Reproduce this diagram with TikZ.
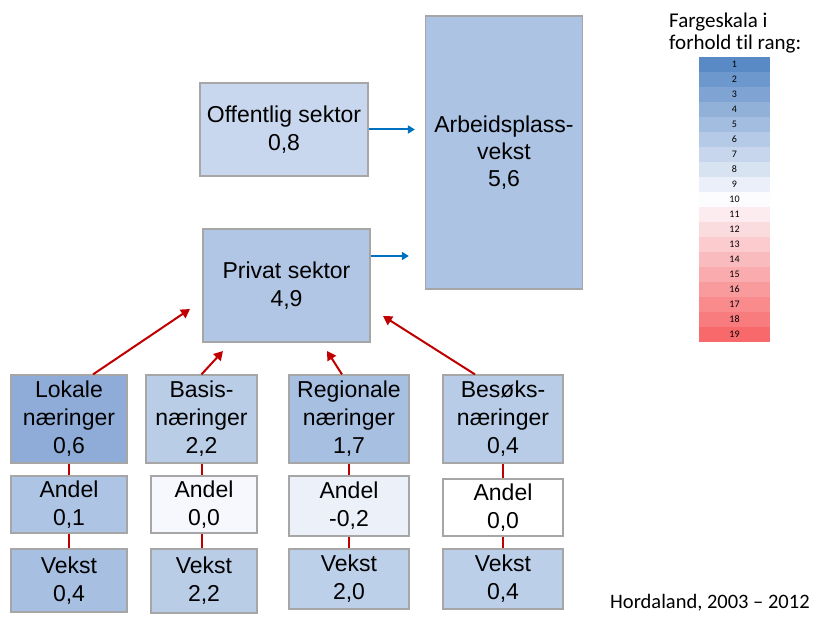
\documentclass[tikz,border=0pt]{standalone}
\usepackage{fontspec}
\setmainfont{Liberation Sans}
\newfontfamily\skalafont[Ligatures=NoCommon]{Carlito}
\usetikzlibrary{arrows.meta}
\definecolor{blaa}{HTML}{0070C0}
\definecolor{rod}{HTML}{C00000}
\definecolor{kant}{HTML}{A6A6A6}
\definecolor{skalablaa}{HTML}{5A8AC6}
\definecolor{skalamidt}{HTML}{FCFCFF}
\definecolor{skalarod}{HTML}{F8696B}
% fyllfarger for boksene
\definecolor{offfarge}{HTML}{C9D7EE}
\definecolor{arbfarge}{HTML}{ACC3E3}
\definecolor{privfarge}{HTML}{B1C6E5}
\definecolor{lokfarge}{HTML}{8FACD9}
\definecolor{basfarge}{HTML}{B9CDE7}
\definecolor{regfarge}{HTML}{A7BFE1}
\definecolor{besfarge}{HTML}{B8CCE7}
\definecolor{alokfarge}{HTML}{AEC4E4}
\definecolor{abasfarge}{HTML}{F7F8FD}
\definecolor{aregfarge}{HTML}{ECF0F9}
\definecolor{abesfarge}{HTML}{FFFFFF}
\definecolor{vlokfarge}{HTML}{A7BFE1}
\definecolor{vbasfarge}{HTML}{B9CDE7}
\definecolor{vregfarge}{HTML}{BDD0EA}
\definecolor{vbesfarge}{HTML}{BCCFE9}

\tikzset{
  boks/.style={draw=kant, line width=1.2pt, align=center, inner sep=0pt,
    font=\fontsize{23}{28}\selectfont},
  pilblaa/.style={draw=blaa, line width=2pt, -{Triangle[length=7pt,width=8pt]}},
  pilrod/.style={draw=rod, line width=2pt, -{Triangle[length=9pt,width=10pt]}},
  strek/.style={draw=rod, line width=2pt},
  celle/.style={minimum width=71pt, minimum height=15pt, inner sep=0pt,
    font=\skalafont\fontsize{10}{10}\selectfont}
}

\begin{document}
\begin{tikzpicture}[x=1pt,y=-1pt]
\useasboundingbox (0,0) rectangle (817,623);

% sektorer
\node[boks, fill=offfarge, minimum width=168pt, minimum height=93pt] (off) at (284,129.5) {Offentlig sektor\\0,8};
\node[boks, fill=arbfarge, minimum width=157pt, minimum height=273pt, font=\fontsize{23}{27}\selectfont] (arb) at (504,152.5) {Arbeidsplass-\\vekst\\5,6};
\node[boks, fill=privfarge, minimum width=167pt, minimum height=113pt] (priv) at (286.5,285.5) {Privat sektor\\4,9};

% naeringer
\node[boks, fill=lokfarge, minimum width=116pt, minimum height=88pt] (lok) at (69,419) {Lokale\\næringer\\0,6};
\node[boks, fill=basfarge, minimum width=111pt, minimum height=88pt] (bas) at (201.5,419) {Basis-\\næringer\\2,2};
\node[boks, fill=regfarge, minimum width=120pt, minimum height=88pt] (reg) at (349,419) {Regionale\\næringer\\1,7};
\node[boks, fill=besfarge, minimum width=120pt, minimum height=88pt] (bes) at (503,419) {Besøks-\\næringer\\0,4};

% andel
\node[boks, fill=alokfarge, minimum width=116pt, minimum height=57pt] (alok) at (69,504.5) {Andel\\0,1};
\node[boks, fill=abasfarge, minimum width=106pt, minimum height=57pt] (abas) at (204,504.5) {Andel\\0,0};
\node[boks, fill=aregfarge, minimum width=120pt, minimum height=60pt] (areg) at (349,506) {Andel\\-0,2};
\node[boks, fill=abesfarge, minimum width=120pt, minimum height=57pt] (abes) at (503,507.5) {Andel\\0,0};

% vekst
\node[boks, fill=vlokfarge, minimum width=116pt, minimum height=63pt] (vlok) at (69,580.5) {Vekst\\0,4};
\node[boks, fill=vbasfarge, minimum width=106pt, minimum height=64pt] (vbas) at (204,581) {Vekst\\2,2};
\node[boks, fill=vregfarge, minimum width=120pt, minimum height=60pt] (vreg) at (349,579) {Vekst\\2,0};
\node[boks, fill=vbesfarge, minimum width=120pt, minimum height=60pt] (vbes) at (503,579) {Vekst\\0,4};

% blaa piler
\coordinate (pu) at ([yshift=29.5pt]priv.east);
\draw[pilblaa, shorten >=10pt] (off.east) -- (off.east -| arb.west);
\draw[pilblaa, shorten >=16pt] (pu) -- (pu -| arb.west);

% rode piler
\coordinate (tlok) at (190,309);
\coordinate (tbas) at (223,351);
\coordinate (treg) at (327,351);
\coordinate (tbes) at (383,316);
\draw[pilrod] ([xshift=24pt]lok.north) -- (tlok);
\draw[pilrod] (bas.north) -- (tbas);
\draw[pilrod] ([xshift=-7pt]reg.north) -- (treg);
\draw[pilrod] ([xshift=-28pt]bes.north) -- (tbes);

% streker mellom radene
\foreach \n in {lok,bas,reg,bes}{
  \draw[strek] (\n.south) -- (\n.south |- a\n.north);
  \draw[strek] (a\n.south -| \n.south) -- (\n.south |- v\n.north);
}

% fargeskala
\node[anchor=north west, align=left, inner sep=0pt,
  font=\skalafont\fontsize{21}{22}\selectfont] (skalatekst) at (669,13) {Fargeskala i\\forhold til rang:};
\foreach \r in {1,...,19}{
  \pgfmathtruncatemacro{\pb}{max(10-\r,0)*100/9}
  \pgfmathtruncatemacro{\pr}{max(\r-10,0)*100/9}
  \colorlet{cellefarge}{skalablaa!\pb!skalamidt}
  \ifnum\r>10 \colorlet{cellefarge}{skalarod!\pr!skalamidt}\fi
  \node[celle, fill=cellefarge] (r\r) at (734.5,{49.5+15*\r}) {\r};
}

\node[anchor=base west, inner sep=0pt, font=\skalafont\fontsize{20.5}{22}\selectfont] (kilde) at (610,608) {Hordaland, 2003 – 2012};
\end{tikzpicture}
\end{document}
